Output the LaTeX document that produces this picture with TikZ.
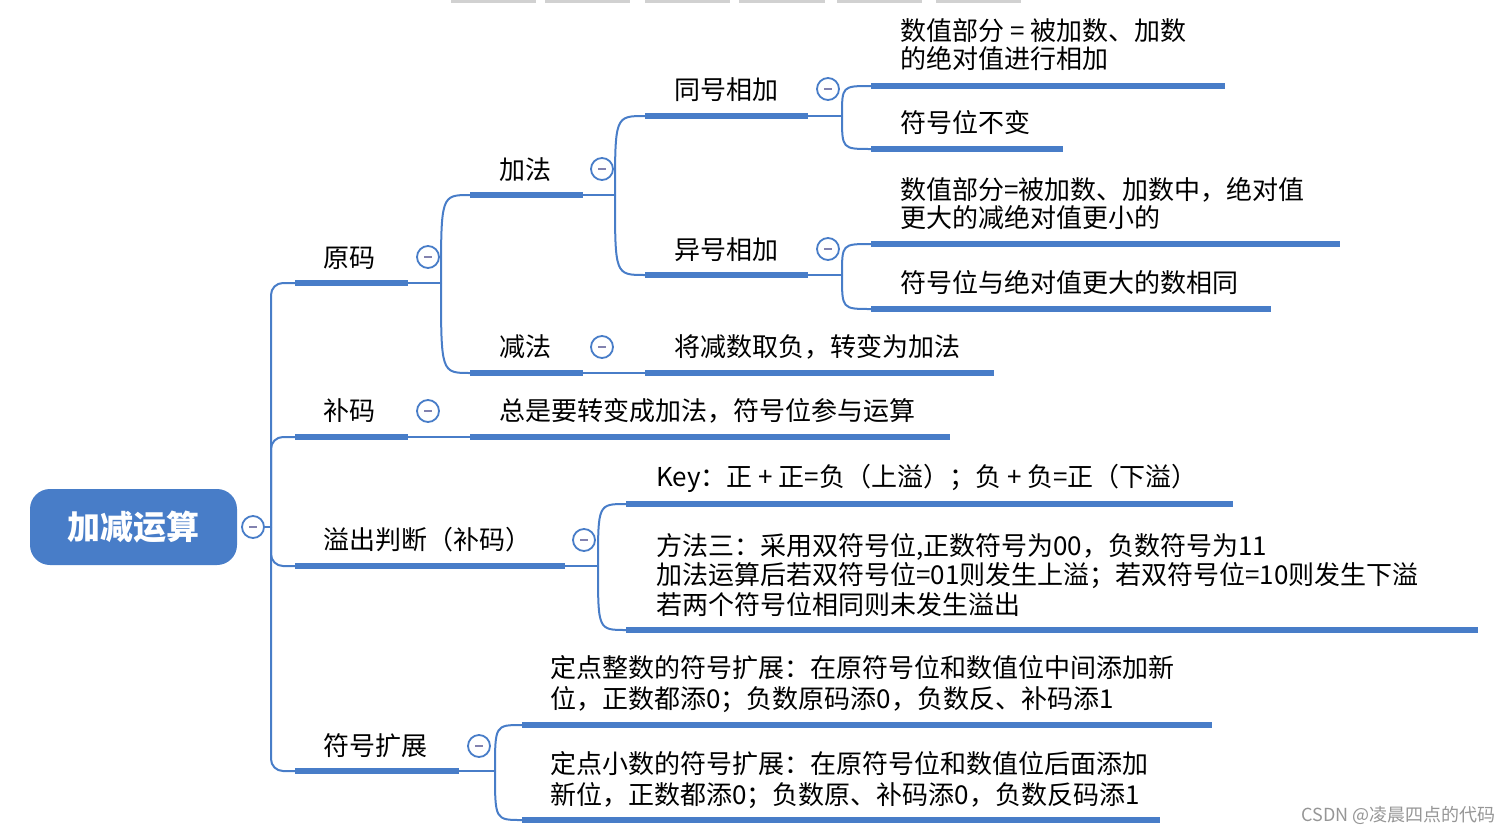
\documentclass[tikz,border=0pt]{standalone}
\usepackage{fontspec}
\setmainfont{Noto Sans CJK SC}
\usetikzlibrary{calc}
\definecolor{mblue}{RGB}{72,125,200}
\definecolor{mminus}{RGB}{130,130,175}
\definecolor{wmgray}{RGB}{150,150,150}
\newcommand{\cbtn}[2]{\node[btn] (#1) at #2 {\textcolor{mminus}{\rule[-1pt]{8pt}{2pt}}};}
\begin{document}
\begin{tikzpicture}[x=1pt,y=-1pt,
  txt/.style={anchor=west,inner sep=0pt,font=\fontsize{26}{28}\selectfont,align=left},
  uline/.style={line width=6pt,draw=mblue},
  conn/.style={line width=2pt,draw=mblue},
  btn/.style={circle,draw=mblue,line width=1.8pt,fill=white,minimum size=22pt,inner sep=0pt},
  topbar/.style={fill=black!18,draw=none}]
\useasboundingbox (0,0) rectangle (1510,836);
% top gray bars
\foreach \a/\b in {451/536,545/630,645/730,739/825,837/922,936/1021}
  \path[topbar] (\a,0) rectangle (\b,3);
% root
\node[fill=mblue,rounded corners=20pt,minimum width=207pt,minimum height=76pt,inner sep=0pt,
  text=white,font=\fontsize{33}{36}\selectfont\bfseries] (root) at (133.5,527) {加减运算};
\cbtn{rootbtn}{(253,527)}
\coordinate (trunk) at (271,527);
\draw[conn] (rootbtn.east) -- (trunk);
% ---------- coordinates of underlines ----------
\coordinate (yuanma-s) at (295,283); \coordinate (yuanma-e) at (408,283); \coordinate (yuanma-f) at (441,283);
\coordinate (buma-s) at (295,437); \coordinate (buma-e) at (408,437);
\coordinate (yichu-s) at (295,566); \coordinate (yichu-e) at (565,566); \coordinate (yichu-f) at (598,566);
\coordinate (fuhao-s) at (295,771); \coordinate (fuhao-e) at (459,771); \coordinate (fuhao-f) at (495,771);
\coordinate (jiafa-s) at (470,195); \coordinate (jiafa-e) at (583,195); \coordinate (jiafa-f) at (615,195);
\coordinate (jianfa-s) at (470,373); \coordinate (jianfa-e) at (583,373);
\coordinate (zongshi-s) at (470,437); \coordinate (zongshi-e) at (950,437);
\coordinate (key-s) at (626,504); \coordinate (key-e) at (1233,504);
\coordinate (fangfa-s) at (626,630); \coordinate (fangfa-e) at (1478,630);
\coordinate (dz-s) at (522,725); \coordinate (dz-e) at (1212,725);
\coordinate (dx-s) at (522,820); \coordinate (dx-e) at (1160,820);
\coordinate (tonghao-s) at (645,116); \coordinate (tonghao-e) at (808,116); \coordinate (tonghao-f) at (842,116);
\coordinate (yihao-s) at (645,275); \coordinate (yihao-e) at (808,275); \coordinate (yihao-f) at (842,275);
\coordinate (qufu-s) at (645,373); \coordinate (qufu-e) at (994,373);
\coordinate (sz1-s) at (871,86); \coordinate (sz1-e) at (1225,86);
\coordinate (bubian-s) at (871,149); \coordinate (bubian-e) at (1063,149);
\coordinate (sz2-s) at (871,244); \coordinate (sz2-e) at (1340,244);
\coordinate (xt-s) at (871,309); \coordinate (xt-e) at (1271,309);
% ---------- trunk ----------
\foreach \c in {yuanma,buma,yichu,fuhao}
  \draw[conn,rounded corners=12pt] (trunk) |- (\c-s);
% ---------- thin links after underlines ----------
\draw[conn] (yuanma-e) -- (yuanma-f);
\draw[conn] (buma-e) -- (zongshi-s);
\draw[conn] (yichu-e) -- (yichu-f);
\draw[conn] (fuhao-e) -- (fuhao-f);
\draw[conn] (jiafa-e) -- (jiafa-f);
\draw[conn] (jianfa-e) -- (qufu-s);
\draw[conn] (tonghao-e) -- (tonghao-f);
\draw[conn] (yihao-e) -- (yihao-f);
% ---------- curved forks ----------
\foreach \f/\c in {yuanma/jiafa,yuanma/jianfa,jiafa/tonghao,jiafa/yihao,
                   tonghao/sz1,tonghao/bubian,yihao/sz2,yihao/xt,
                   yichu/key,yichu/fangfa,fuhao/dz,fuhao/dx}
  \draw[conn] (\f-f) .. controls (\f-f |- \c-s) .. (\c-s);
% ---------- underlines ----------
\foreach \c in {yuanma,buma,yichu,fuhao,jiafa,jianfa,zongshi,key,fangfa,dz,dx,
                tonghao,yihao,qufu,sz1,bubian,sz2,xt}
  \draw[uline] (\c-s) -- (\c-e);
% ---------- texts ----------
\node[txt] (yuanma) at (323,258) {原码};
\node[txt] (buma) at (323,411) {补码};
\node[txt] (yichu) at (323,540) {溢出判断（补码）};
\node[txt] (fuhao) at (323,746) {符号扩展};
\node[txt] (jiafa) at (499,170) {加法};
\node[txt] (jianfa) at (499,347) {减法};
\node[txt] (zongshi) at (499,411) {总是要转变成加法，符号位参与运算};
\node[txt] (key) at (656,478) {Key：正 + 正=负（上溢）；负 + 负=正（下溢）};
\node[txt,font=\fontsize{26}{29.5}\selectfont] (fangfa) at (656,575)
  {方法三：采用双符号位,正数符号为00，负数符号为11\\加法运算后若双符号位=01则发生上溢；若双符号位=10则发生下溢\\若两个符号位相同则未发生溢出};
\node[txt,font=\fontsize{26}{31}\selectfont] (dz) at (550,684.5)
  {定点整数的符号扩展：在原符号位和数值位中间添加新\\位，正数都添0；负数原码添0，负数反、补码添1};
\node[txt,font=\fontsize{26}{31}\selectfont] (dx) at (550,780.5)
  {定点小数的符号扩展：在原符号位和数值位后面添加\\新位，正数都添0；负数原、补码添0，负数反码添1};
\node[txt] (tonghao) at (674,90) {同号相加};
\node[txt] (yihao) at (674,250) {异号相加};
\node[txt] (qufu) at (674,347) {将减数取负，转变为加法};
\node[txt] (sz1) at (900,45) {数值部分 = 被加数、加数\\的绝对值进行相加};
\node[txt] (bubian) at (900,123) {符号位不变};
\node[txt] (sz2) at (900,204) {数值部分=被加数、加数中，绝对值\\更大的减绝对值更小的};
\node[txt] (xt) at (900,283) {符号位与绝对值更大的数相同};
% ---------- collapse buttons ----------
\cbtn{yuanmabtn}{(428,257)}
\cbtn{bumabtn}{(428,411)}
\cbtn{yichubtn}{(584,540)}
\cbtn{fuhaobtn}{(479,746)}
\cbtn{jiafabtn}{(602,169)}
\cbtn{jianfabtn}{(602,347)}
\cbtn{tonghaobtn}{(828,89)}
\cbtn{yihaobtn}{(828,249)}
% watermark
\node[anchor=east,inner sep=0pt,text=wmgray,font=\fontsize{18}{20}\selectfont] (wm) at (1496,815) {CSDN @凌晨四点的代码};
\end{tikzpicture}
\end{document}
